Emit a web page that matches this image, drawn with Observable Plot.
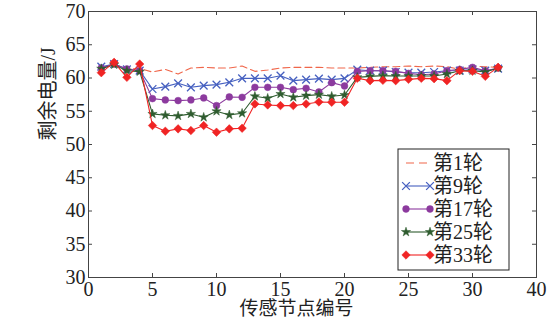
<!DOCTYPE html>
<html>
<head>
<meta charset="utf-8">
<script src="https://cdn.jsdelivr.net/npm/d3@7"></script>
<script src="https://cdn.jsdelivr.net/npm/@observablehq/plot@0.6"></script>
<style>
  html, body { margin: 0; padding: 0; background: #fff; }
  svg { display: block; }
</style>
</head>
<body>
<div id="chart"></div>
<script>
// ---- data ----
const nodes = [1,2,3,4,5,6,7,8,9,10,11,12,13,14,15,16,17,18,19,20,21,22,23,24,25,26,27,28,29,30,31,32];
const seriesNames = ["第1轮", "第9轮", "第17轮", "第25轮", "第33轮"];
const round1  = [61.5,62.0,61.4,61.4,60.9,61.3,60.6,61.5,61.6,61.5,61.5,61.8,61.0,61.2,61.5,61.6,61.6,61.6,61.5,61.5,61.5,61.6,61.7,61.7,61.8,61.7,61.8,61.7,61.3,61.8,61.7,61.6];
const round9  = [61.7,62.1,61.3,61.1,58.35,58.7,59.2,58.6,58.85,59.0,59.35,59.95,59.95,59.95,60.35,59.6,59.75,59.9,59.75,59.95,61.25,61.1,61.1,60.9,60.8,60.8,60.9,61.1,61.1,61.3,61.1,61.4];
const round17 = [61.5,62.1,61.35,61.1,56.9,56.7,56.6,56.7,57.0,55.85,57.15,57.1,58.6,58.6,58.6,58.25,58.45,57.9,59.3,58.8,61.0,61.1,61.1,61.0,60.7,60.5,60.6,61.1,61.3,61.6,61.1,61.5];
const round25 = [61.4,62.0,61.1,60.95,54.6,54.4,54.3,54.6,54.1,55.0,54.45,54.7,57.25,56.95,57.6,57.1,57.35,57.5,57.25,57.45,60.1,60.25,60.35,60.3,60.3,60.3,60.3,60.6,61.1,61.1,60.9,61.5];
const round33 = [60.8,62.35,60.1,62.1,52.85,52.0,52.35,52.1,52.85,51.85,52.35,52.45,56.1,55.95,55.85,55.85,56.1,56.4,56.35,56.35,59.95,59.6,59.65,59.6,59.8,59.95,59.9,59.6,61.1,61.0,60.25,61.6];
const xTickValues = [0,5,10,15,20,25,30,35];
const xTickLabels = ["0","5","10","15","20","25","30","40"];
const yTickValues = [30,35,40,45,50,55,60,65,70];
const xLabel = "传感节点编号";
const yLabel = "剩余电量/J";

// ---- styling ----
const allValues = [round1, round9, round17, round25, round33];
const colors = ["#f0664a", "#4660c0", "#8c3a9e", "#2f5c2f", "#f02424"];
const symbols = [null, "times", "circle", "star", "square"];
const radii = [0, 3.6, 3.4, 2.9, 3.4];
const rotations = [0, 0, 0, 0, 45];

const rows = allValues.map((vals, s) => nodes.map((n, i) => ({node: n, value: vals[i], s})));

const W = 553, H = 325, mL = 88, mR = 17, mT = 11, mB = 48;
const pw = W - mL - mR, ph = H - mT - mB;
const tl = 4;
const font = 'Times, "Liberation Serif", "DejaVu Serif", "Noto Sans CJK SC", serif';

const marks = [
  Plot.frame({stroke: "#444", strokeWidth: 1}),
  Plot.tickX(xTickValues, {x: d => d, insetTop: ph - tl, stroke: "#444"}),
  Plot.tickX(xTickValues, {x: d => d, insetBottom: ph - tl, stroke: "#444"}),
  Plot.tickY(yTickValues, {y: d => d, insetRight: pw - tl, stroke: "#444"}),
  Plot.tickY(yTickValues, {y: d => d, insetLeft: pw - tl, stroke: "#444"}),
  Plot.axisX({ticks: xTickValues, tickSize: 0, tickPadding: 4, label: null,
    tickFormat: d => xTickLabels[xTickValues.indexOf(d)], fontSize: 20, fill: "#222"}),
  Plot.axisY({ticks: yTickValues, tickSize: 0, tickPadding: 3, label: null, fontSize: 20, fill: "#222"}),
  Plot.text([yLabel], {frameAnchor: "left", dx: -40, dy: -4, rotate: -90, fontSize: 20, fill: "#222"}),
  Plot.text([xLabel], {frameAnchor: "bottom", dx: -16, dy: 37, fontSize: 19, fill: "#222"})
];

rows.forEach((r, s) => {
  marks.push(Plot.line(r, {x: "node", y: "value", stroke: colors[s], strokeWidth: 1.1,
    strokeDasharray: s === 0 ? "7,4" : null}));
  if (symbols[s]) {
    const isStroke = symbols[s] === "times";
    marks.push(Plot.dot(r, {x: "node", y: "value", symbol: () => symbols[s], r: radii[s],
      rotate: rotations[s],
      fill: isStroke ? "none" : colors[s], stroke: colors[s], strokeWidth: isStroke ? 1.3 : 0.5}));
  }
});

const chart = Plot.plot({
  width: W, height: H,
  marginLeft: mL, marginRight: mR, marginTop: mT, marginBottom: mB,
  x: {domain: [0, 35]},
  y: {domain: [30, 70]},
  symbol: {type: "identity"},
  style: {fontSize: "20px", background: "#fff", color: "#222", overflow: "visible"},
  marks
});
document.getElementById("chart").appendChild(chart);

// ---- legend (inside plot, lower right) ----
const svg = d3.select(chart);
const lg = svg.append("g").attr("font-size", 20).attr("text-anchor", "start");
const bx = 398, by = 149, bw = 111, bh = 121;
lg.append("rect").attr("x", bx).attr("y", by).attr("width", bw).attr("height", bh)
  .attr("fill", "#fff").attr("stroke", "#222").attr("stroke-width", 1);
const symMap = {times: d3.symbolTimes, circle: d3.symbolCircle, star: d3.symbolStar, square: d3.symbolSquare};
seriesNames.forEach((name, s) => {
  const y = by + 14 + s * 23;
  const x1 = bx + 8, x2 = bx + 32;
  lg.append("line").attr("x1", x1).attr("x2", x2).attr("y1", y).attr("y2", y)
    .attr("stroke", colors[s]).attr("stroke-width", 1.1)
    .attr("stroke-dasharray", s === 0 ? "8,5" : null);
  if (symbols[s]) {
    const path = d3.symbol(symMap[symbols[s]], Math.PI * radii[s] * radii[s])();
    const isStroke = symbols[s] === "times";
    [x1, x2].forEach(x => {
      lg.append("path").attr("d", path)
        .attr("transform", `translate(${x},${y}) rotate(${rotations[s]})`)
        .attr("fill", isStroke ? "none" : colors[s]).attr("stroke", colors[s])
        .attr("stroke-width", isStroke ? 1.3 : 0.5);
    });
  }
  lg.append("text").attr("x", bx + 35).attr("y", y).attr("dy", "0.35em")
    .attr("text-anchor", "start").attr("fill", "#222").text(name);
});

// serif font on every text element (attribute + inline style)
svg.attr("font-family", font).style("font-family", font);
svg.selectAll("g").attr("font-family", null);
svg.selectAll("text").attr("font-family", font).style("font-family", font);
</script>
</body>
</html>
